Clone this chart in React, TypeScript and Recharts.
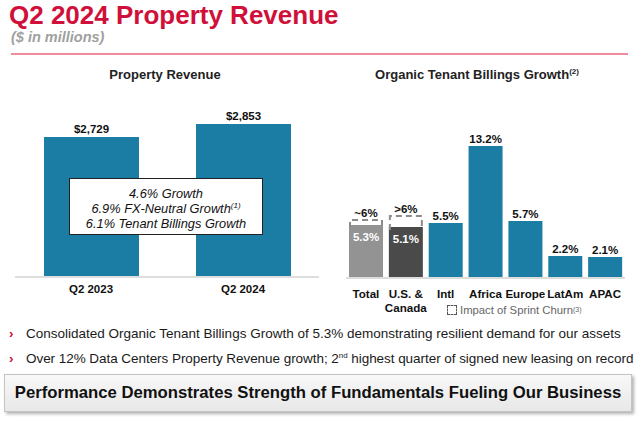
import React from 'react'
import { Bar, BarChart, Cell, LabelList, XAxis, YAxis } from 'recharts'

// left chart: property revenue ($ in millions)
const revenueQuarters = ['Q2 2023', 'Q2 2024']
const revenueValues = [2729, 2853]

// right chart: organic tenant billings growth (%)
const regions = ['Total', 'U.S. &\nCanada', 'Intl', 'Africa', 'Europe', 'LatAm', 'APAC']
const growthValues = [5.3, 5.1, 5.5, 13.2, 5.7, 2.2, 2.1]
// top of the dashed "impact of Sprint churn" box, only for first two
const churnTops = [5.8, 6.2, 0, 0, 0, 0, 0]
const churnLabels = ['~6%', '>6%', '', '', '', '', '']

const boxLines = ['4.6% Growth', '6.9% FX-Neutral Growth', '6.1% Tenant Billings Growth']

const FONT = '"Liberation Sans", Arial, sans-serif'
const RED = '#d0103a'
const TEAL = '#1b7ca4'
const BAR_COLORS = ['#939393', '#4a4a4a', TEAL, TEAL, TEAL, TEAL, TEAL]
const LABEL_SIZE = 11.5

const revenueData = revenueQuarters.map((q, i) => ({ name: q, value: revenueValues[i] }))

const growthData = regions.map((r, i) => ({
  name: r,
  value: growthValues[i],
  churn: churnTops[i] > 0 ? +(churnTops[i] - growthValues[i]).toFixed(2) : 0,
  churnLabel: churnLabels[i],
  inside: i < 2 ? `${growthValues[i].toFixed(1)}%` : '',
  top: i < 2 ? '' : `${growthValues[i].toFixed(1)}%`,
}))

function box(props: any) {
  const vb = props.viewBox ?? props
  return { x: Number(vb.x), y: Number(vb.y), width: Number(vb.width), height: Number(vb.height) }
}

function TopLabel(props: any) {
  const { x, y, width } = box(props)
  if (!props.value) return null
  return (
    <text x={x + width / 2} y={y - 3.5} textAnchor="middle" fontFamily={FONT} fontWeight="bold" fontSize={LABEL_SIZE} fill="#111">
      {props.value}
    </text>
  )
}

function InsideLabel(props: any) {
  const { x, y, width } = box(props)
  if (!props.value) return null
  return (
    <text x={x + width / 2} y={y + 16} textAnchor="middle" fontFamily={FONT} fontWeight="bold" fontSize={LABEL_SIZE} fill="#fff">
      {props.value}
    </text>
  )
}

// dashed open box (top + sides) for the churn segment
function ChurnShape(props: any) {
  const { x, y, width, height } = props
  if (!height || height <= 0) return null
  const d = `M${x + 1},${y + height + 3} L${x + 1},${y} L${x + width - 1},${y} L${x + width - 1},${y + height + 3}`
  return <path d={d} fill="none" stroke="#8c8c8c" strokeWidth={2} strokeDasharray="6 4" />
}

function RegionTick(props: any) {
  const { x, y, payload } = props
  const lines = String(payload.value).split('\n')
  return (
    <text x={x} y={y + 4} textAnchor="middle" fontFamily={FONT} fontWeight="bold" fontSize={11.6} fill="#111">
      {lines.map((l, i) => (
        <tspan key={i} x={x} dy={i === 0 ? '0.71em' : 13.5}>
          {l}
        </tspan>
      ))}
    </text>
  )
}

export default function App() {
  return (
    <div style={{ position: 'absolute', left: 0, top: 0, width: 640, height: 421, background: '#fff', fontFamily: FONT, overflow: 'hidden' }}>
      <div style={{ position: 'absolute', left: 9, top: 0, fontSize: 26, fontWeight: 'bold', color: RED }}>
        Q2 2024 Property Revenue
      </div>
      <div style={{ position: 'absolute', left: 11, top: 29, fontSize: 14.5, fontWeight: 'bold', fontStyle: 'italic', color: '#a0a0a0' }}>
        ($ in millions)
      </div>
      <div style={{ position: 'absolute', left: 11, top: 53, width: 617, height: 2, background: '#f08ca0' }} />

      <div style={{ position: 'absolute', left: 0, top: 67, width: 330, textAlign: 'center', fontSize: 13, fontWeight: 'bold', color: '#222' }}>
        Property Revenue
      </div>
      <div style={{ position: 'absolute', left: 330, top: 67, width: 294, textAlign: 'center', fontSize: 13, fontWeight: 'bold', color: '#222' }}>
        Organic Tenant Billings Growth<sup style={{ fontSize: 8, lineHeight: 0 }}>(2)</sup>
      </div>

      <div style={{ position: 'absolute', left: 0, top: 0 }}>
        <BarChart width={330} height={300} data={revenueData} margin={{ top: 100, right: 11, bottom: 0, left: 15 }}>
          <YAxis hide domain={[1400, 3080]} />
          <XAxis
            dataKey="name"
            height={23}
            axisLine={{ stroke: '#dddddd', strokeWidth: 2 }}
            tickLine={false}
            tick={{ fontFamily: FONT, fontWeight: 'bold', fontSize: 11.5, fill: '#111' }}
          />
          <Bar dataKey="value" fill={TEAL} barSize={95} isAnimationActive={false}>
            <LabelList
              dataKey="value"
              content={(p: any) => <TopLabel {...p} value={`$${Number(p.value).toLocaleString('en-US')}`} />}
            />
          </Bar>
        </BarChart>
      </div>

      <div
        style={{
          position: 'absolute',
          left: 69,
          top: 178,
          width: 192,
          height: 55 - 6.5,
          border: '1px solid #222',
          background: '#fff',
          textAlign: 'center',
          fontStyle: 'italic',
          fontSize: 12.8,
          lineHeight: '15.3px',
          paddingTop: 6.5,
          color: '#111',
        }}
      >
        <div>{boxLines[0]}</div>
        <div>
          {boxLines[1]}
          <sup style={{ fontSize: 8, lineHeight: 0 }}>(1)</sup>
        </div>
        <div>{boxLines[2]}</div>
      </div>

      <div style={{ position: 'absolute', left: 330, top: 0 }}>
        <BarChart width={310} height={320} data={growthData} margin={{ top: 118, right: 15, bottom: 20, left: 16 }}>
          <YAxis hide domain={[0, 16]} />
          <XAxis
            dataKey="name"
            height={22}
            interval={0}
            axisLine={{ stroke: '#dddddd', strokeWidth: 2 }}
            tickLine={false}
            tick={<RegionTick />}
          />
          <Bar dataKey="value" stackId="a" barSize={34} isAnimationActive={false}>
            {growthData.map((d, i) => (
              <Cell key={d.name} fill={BAR_COLORS[i]} />
            ))}
            <LabelList dataKey="inside" content={(p: any) => <InsideLabel {...p} />} />
            <LabelList dataKey="top" content={(p: any) => <TopLabel {...p} />} />
          </Bar>
          <Bar dataKey="churn" stackId="a" barSize={34} shape={<ChurnShape />} isAnimationActive={false}>
            <LabelList dataKey="churnLabel" content={(p: any) => <TopLabel {...p} />} />
          </Bar>
        </BarChart>
      </div>

      <div style={{ position: 'absolute', left: 447, top: 304, fontSize: 11.3, color: '#666', display: 'flex', alignItems: 'center', whiteSpace: 'nowrap' }}>
        <span style={{ display: 'inline-block', width: 8, height: 8, border: '1.5px dashed #555', marginRight: 3 }} />
        Impact of Sprint Churn<sup style={{ fontSize: 7, lineHeight: 0 }}>(3)</sup>
      </div>

      <div style={{ position: 'absolute', left: 9, top: 326, fontSize: 13.5, color: '#1a1a1a', whiteSpace: 'nowrap' }}>
        <span style={{ display: 'inline-block', width: 17, color: RED, fontWeight: 'bold' }}>›</span>
        Consolidated Organic Tenant Billings Growth of 5.3% demonstrating resilient demand for our assets
      </div>
      <div style={{ position: 'absolute', left: 9, top: 351, fontSize: 13.5, color: '#1a1a1a', whiteSpace: 'nowrap', letterSpacing: -0.05 }}>
        <span style={{ display: 'inline-block', width: 17, color: RED, fontWeight: 'bold' }}>›</span>
        Over 12% Data Centers Property Revenue growth; 2<sup style={{ fontSize: 8, lineHeight: 0 }}>nd</sup> highest quarter of signed new leasing on record
      </div>

      <div
        style={{
          position: 'absolute',
          left: 4,
          top: 374,
          width: 626,
          height: 36,
          background: 'linear-gradient(#f8f8f8, #e8e8e8)',
          border: '1px solid #c4c4c4',
          boxShadow: '2px 2px 3px rgba(0,0,0,0.3)',
          textAlign: 'center',
          lineHeight: '36px',
          fontSize: 16.7,
          fontWeight: 'bold',
          color: '#111',
          whiteSpace: 'nowrap',
        }}
      >
        Performance Demonstrates Strength of Fundamentals Fueling Our Business
      </div>
    </div>
  )
}
